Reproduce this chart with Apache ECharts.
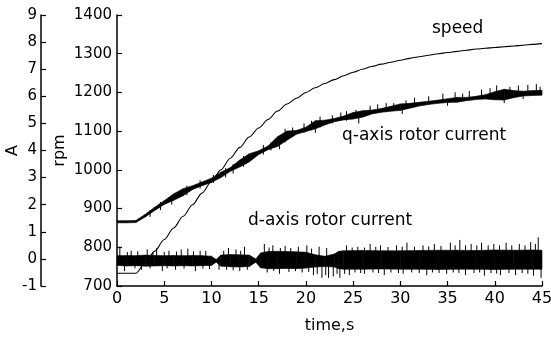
<!DOCTYPE html>
<html>
<head>
<meta charset="utf-8">
<title>rotor current and speed</title>
<script src="https://cdn.jsdelivr.net/npm/echarts@6/dist/echarts.min.js"></script>
<style>
  html, body { margin: 0; padding: 0; background: #fff; }
  #main { width: 551px; height: 337px; }
</style>
</head>
<body>
<div id="main"></div>
<script>
// time axis ticks
var timeTicks = [0, 5, 10, 15, 20, 25, 30, 35, 40, 45];

// speed, rpm, one value per second (0..45 s)
var speedTime = [0,1,2,3,4,5,6,7,8,9,10,11,12,13,14,15,16,17,18,19,20,21,22,23,24,25,26,27,28,29,30,31,32,33,34,35,36,37,38,39,40,41,42,43,44,45];
var speedRpm = [733,733,733,760,790,820,850,880,910,940,970,1000,1030,1058,1085,1108,1130,1152,1170,1185,1200,1212,1223,1233,1243,1252,1260,1267,1273,1278,1283,1288,1292,1296,1300,1303,1306,1309,1312,1314,1316,1318,1320,1322,1324,1326];

// q-axis rotor current, A : middle of the trace and half its thickness
var qTime = speedTime;
var qCurrent = [1.37,1.37,1.38,1.6,1.85,2.08,2.28,2.46,2.63,2.77,2.9,3.1,3.3,3.52,3.73,3.92,4.1,4.33,4.55,4.67,4.78,4.95,5.03,5.12,5.2,5.28,5.35,5.42,5.48,5.54,5.6,5.65,5.71,5.76,5.8,5.84,5.87,5.9,5.94,5.98,6.02,6.06,6.08,6.1,6.12,6.13];
var qSpread = [0.04,0.04,0.04,0.05,0.06,0.07,0.12,0.13,0.07,0.07,0.08,0.1,0.07,0.13,0.15,0.07,0.07,0.18,0.17,0.07,0.08,0.15,0.09,0.06,0.07,0.12,0.12,0.07,0.07,0.09,0.12,0.09,0.07,0.06,0.06,0.07,0.09,0.06,0.06,0.08,0.15,0.2,0.13,0.09,0.09,0.09];
// single spikes sticking out of the q trace [t, low, high]
var qSpikes = [
  [3.5,1.55,1.8],[4.6,1.8,2.1],[5.8,2.0,2.35],[7.4,2.35,2.7],[8.8,2.6,2.9],[10.2,2.8,3.1],
  [11.5,3.0,3.35],[12.3,3.15,3.5],[13.4,3.4,3.8],[15.5,3.85,4.2],[16.3,4.0,4.3],[17.8,4.3,4.8],
  [18.6,4.5,4.85],[19.8,4.65,5.0],[20.6,4.75,5.1],[21.5,4.85,5.25],[22.8,5.0,5.3],[23.7,5.1,5.4],
  [24.3,5.1,5.45],[25.3,5.2,5.5],[26.8,5.35,5.65],[27.6,5.4,5.7],[28.5,5.42,5.75],[29.3,5.48,5.75],
  [30.6,5.55,5.85],[31.5,5.6,5.95],[33,5.7,6.0],[34.5,5.75,6.1],[35.8,5.8,6.15],[36.6,5.82,6.1],
  [37.3,5.85,6.2],[38.6,5.9,6.25],[39.5,5.92,6.3],[40.2,5.95,6.4],[41.6,6.0,6.35],[42.5,6.02,6.4],
  [43.5,6.05,6.42],[44.4,6.08,6.45],[44.8,6.08,6.35],
  [17.2,4.05,4.3],[21,4.65,4.9],[25.6,5.0,5.25],[30.2,5.35,5.55],[35,5.65,5.85],[41,5.75,6.0],[43,5.9,6.1]
];

// d-axis rotor current, A : lower / upper edge of the dense band
var dTime = [0,1,2,3,4,5,6,7,8,9,10,10.5,11,12,13,14,14.7,15.2,16,17,18,19,20,21,22,23,23.5,24,26,28,30,32,34,36,38,40,42,44,45];
var dLow  = [-0.24,-0.26,-0.25,-0.27,-0.26,-0.25,-0.26,-0.25,-0.26,-0.25,-0.24,-0.12,-0.27,-0.29,-0.3,-0.28,-0.12,-0.33,-0.36,-0.36,-0.35,-0.36,-0.34,-0.3,-0.28,-0.3,-0.36,-0.38,-0.38,-0.37,-0.38,-0.38,-0.39,-0.38,-0.38,-0.39,-0.38,-0.38,-0.38];
var dHigh = [0.12,0.13,0.12,0.14,0.13,0.12,0.13,0.12,0.13,0.12,0.1,-0.02,0.14,0.16,0.15,0.14,0.0,0.22,0.27,0.28,0.27,0.26,0.25,0.15,0.1,0.18,0.28,0.3,0.31,0.3,0.3,0.31,0.32,0.32,0.31,0.33,0.32,0.33,0.32];
// spikes of the d trace [t, low, high]
var dSpikes = [
  [0.3,0,0.45],[1.1,0,0.25],[1.5,0,0.3],[2.2,0,0.28],[3.2,0,0.35],[3.8,0,0.25],[4.2,0,0.4],[5.0,0,0.26],
  [5.5,0,0.3],[6.3,0,0.27],[6.8,0,0.35],[7.5,0,0.38],[8.1,0,0.28],[8.8,0,0.3],[9.4,0,0.3],[11.3,0,0.3],
  [11.8,0,0.4],[12.6,0,0.35],[13.1,0,0.3],[13.5,0,0.45],[15.6,0,0.55],[16.1,0,0.42],[16.5,0,0.5],[17.3,0,0.4],
  [17.8,0,0.48],[18.4,0,0.4],[19.2,0,0.45],[20.1,0,0.5],[20.6,0,0.38],[21.4,0,0.45],[22.2,0,0.4],[24.3,0,0.5],
  [24.9,0,0.42],[25.5,0,0.45],[26.2,0,0.42],[26.8,0,0.55],[27.4,0,0.45],[27.9,0,0.5],[28.7,0,0.44],[29.6,0,0.5],
  [30.2,0,0.45],[30.7,0,0.6],[31.5,0,0.45],[32.4,0,0.5],[33.0,0,0.46],[33.6,0,0.55],[34.3,0,0.48],[35.3,0,0.6],
  [35.8,0,0.5],[36.3,0,0.7],[36.9,0,0.5],[37.5,0,0.55],[38.1,0,0.5],[38.6,0,0.6],[39.3,0,0.5],[39.9,0,0.55],
  [40.5,0,0.5],[41.2,0,0.6],[41.8,0,0.5],[42.6,0,0.55],[43.2,0,0.5],[43.8,0,0.62],[44.3,0,0.55],[44.6,0,0.8],
  [0.8,-0.45,0],[1.9,-0.35,0],[2.6,-0.4,0],[3.5,-0.35,0],[4.8,-0.45,0],[5.3,-0.35,0],[6.2,-0.4,0],[7.1,-0.36,0],
  [8.3,-0.45,0],[9.1,-0.36,0],[9.8,-0.38,0],[10.8,-0.4,0],[11.6,-0.4,0],[12.3,-0.42,0],[13,-0.45,0],[13.8,-0.4,0],
  [15.9,-0.5,0],[16.6,-0.45,0],[17.2,-0.55,0],[18.2,-0.48,0],[18.9,-0.45,0],[19.6,-0.5,0],[20.3,-0.48,0],[20.8,-0.6,0],
  [21.2,-0.55,0],[21.7,-0.7,0],[22.1,-0.6,0],[22.4,-0.7,0],[22.9,-0.65,0],[23.3,-0.55,0],[23.6,-0.7,0],[24.1,-0.55,0],
  [24.6,-0.6,0],[25.2,-0.5,0],[25.8,-0.52,0],[26.2,-0.55,0],[27.1,-0.5,0],[27.7,-0.52,0],[28.3,-0.6,0],[29.0,-0.5,0],
  [29.8,-0.52,0],[30.3,-0.55,0],[31.2,-0.5,0],[32.0,-0.52,0],[32.8,-0.6,0],[33.4,-0.5,0],[34.1,-0.52,0],[34.9,-0.55,0],
  [35.6,-0.5,0],[36.2,-0.52,0],[36.9,-0.6,0],[37.8,-0.52,0],[38.4,-0.5,0],[38.9,-0.62,0],[39.6,-0.52,0],[40.2,-0.54,0],
  [40.6,-0.6,0],[41.5,-0.52,0],[42.2,-0.6,0],[42.9,-0.52,0],[43.5,-0.55,0],[44.1,-0.62,0],[44.9,-0.7,0]
];

var FONT = 'DejaVu Sans';

// band segments [t0, lo0, hi0, t1, lo1, hi1]
function bandSegments(t, lo, hi) {
  var out = [];
  for (var i = 0; i < t.length - 1; i++) {
    out.push([t[i], lo[i], hi[i], t[i + 1], lo[i + 1], hi[i + 1]]);
  }
  return out;
}

var qLow = qCurrent.map(function (v, i) { return v - qSpread[i]; });
var qHigh = qCurrent.map(function (v, i) { return v + qSpread[i]; });

function renderBand(params, api) {
  var a = api.coord([api.value(0), api.value(1)]);
  var b = api.coord([api.value(0), api.value(2)]);
  var c = api.coord([api.value(3), api.value(5)]);
  var d = api.coord([api.value(3), api.value(4)]);
  return {
    type: 'polygon',
    shape: { points: [a, b, c, d] },
    style: { fill: '#000', stroke: '#000', lineWidth: 0.6 }
  };
}

function renderSpike(params, api) {
  var a = api.coord([api.value(0), api.value(1)]);
  var b = api.coord([api.value(0), api.value(2)]);
  return {
    type: 'line',
    shape: { x1: a[0], y1: a[1], x2: b[0], y2: b[1] },
    style: { stroke: '#000', lineWidth: 1 }
  };
}

var axisCommon = {
  axisLine: { show: true, onZero: false, lineStyle: { color: '#000', width: 1.5 } },
  axisTick: { show: true, inside: true, length: 5, lineStyle: { color: '#000', width: 1.2 } },
  splitLine: { show: false },
  nameMoveOverlap: false,
  nameTextStyle: { color: '#000', fontFamily: FONT, fontSize: 16 }
};

function plain(v) { return String(v); }

var chart = echarts.init(document.getElementById('main'), null, { renderer: 'canvas' });

var option = {
  animation: false,
  backgroundColor: '#fff',
  grid: { left: 117, right: 9, top: 15, bottom: 51, containLabel: false, outerBoundsMode: 'none' },
  xAxis: Object.assign({}, axisCommon, {
    type: 'value',
    min: timeTicks[0],
    max: timeTicks[timeTicks.length - 1],
    interval: 5,
    name: 'time,s',
    nameLocation: 'middle',
    nameGap: 32,
    axisLabel: { color: '#000', fontFamily: FONT, fontSize: 16, margin: 5, formatter: plain }
  }),
  yAxis: [
    Object.assign({}, axisCommon, {
      type: 'value',
      position: 'left',
      offset: 76,
      min: -1,
      max: 9,
      interval: 1,
      name: 'A',
      nameLocation: 'middle',
      nameGap: 20,
      axisLabel: { color: '#000', fontFamily: FONT, fontSize: 15, margin: 4, formatter: plain }
    }),
    Object.assign({}, axisCommon, {
      type: 'value',
      position: 'left',
      offset: 0,
      min: 700,
      max: 1400,
      interval: 100,
      name: 'rpm',
      nameLocation: 'middle',
      nameGap: 49,
      axisLabel: { color: '#000', fontFamily: FONT, fontSize: 15, margin: 5, formatter: plain }
    })
  ],
  graphic: [
    { type: 'text', left: 432, top: 20, style: { text: 'speed', fill: '#000', font: '17px "DejaVu Sans"' } },
    { type: 'text', left: 342, top: 127, style: { text: 'q-axis rotor current', fill: '#000', font: '17px "DejaVu Sans"' } },
    { type: 'text', left: 248, top: 212, style: { text: 'd-axis rotor current', fill: '#000', font: '17px "DejaVu Sans"' } }
  ],
  series: [
    {
      name: 'speed',
      type: 'line',
      yAxisIndex: 1,
      symbol: 'none',
      smooth: 0.3,
      smoothMonotone: 'x',
      lineStyle: { color: '#000', width: 1.1 },
      data: speedTime.map(function (t, i) { return [t, speedRpm[i]]; }),
      z: 3
    },
    {
      name: 'q-axis rotor current',
      type: 'custom',
      yAxisIndex: 0,
      renderItem: renderBand,
      data: bandSegments(qTime, qLow, qHigh),
      z: 2
    },
    {
      name: 'q spikes',
      type: 'custom',
      yAxisIndex: 0,
      renderItem: renderSpike,
      data: qSpikes,
      z: 2
    },
    {
      name: 'd-axis rotor current',
      type: 'custom',
      yAxisIndex: 0,
      renderItem: renderBand,
      data: bandSegments(dTime, dLow, dHigh),
      z: 2
    },
    {
      name: 'd spikes',
      type: 'custom',
      yAxisIndex: 0,
      renderItem: renderSpike,
      data: dSpikes,
      z: 2
    }
  ]
};

chart.setOption(option);
</script>
</body>
</html>
